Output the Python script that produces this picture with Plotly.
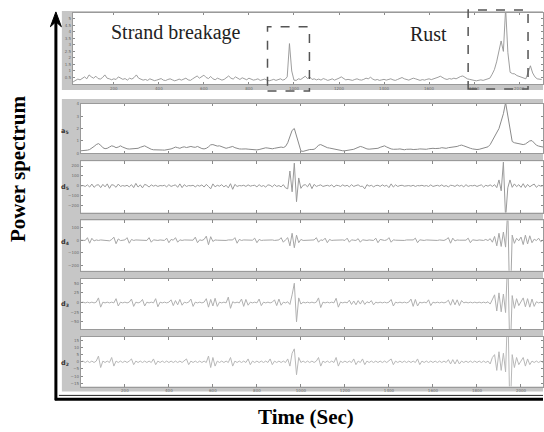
import plotly.graph_objects as go

W, H = 544, 432


def px(x):
    return x / W


def py(y):
    return 1 - y / H


# ---------------- data ----------------
time = list(range(0, 2101, 10))  # seconds, 10 s sampling

spectrum = [
    0.15, 0.20, 0.18, 0.30, 0.38, 0.32, 0.45, 0.55, 0.40, 0.70,
    0.55, 0.45, 0.60, 0.42, 0.38, 0.50, 0.70, 0.45, 0.40, 0.33,
    0.40, 0.35, 0.55, 0.48, 0.36, 0.42, 0.30, 0.45, 0.38, 0.50,
    0.70, 0.45, 0.38, 0.30, 0.35, 0.28, 0.40, 0.33, 0.26, 0.30,
    0.36, 0.42, 0.30, 0.27, 0.35, 0.40, 0.32, 0.25, 0.30, 0.38,
    0.30, 0.35, 0.45, 0.32, 0.28, 0.40, 0.50, 0.62, 0.45, 0.55,
    0.68, 0.50, 0.42, 0.58, 0.40, 0.33, 0.45, 0.38, 0.30, 0.36,
    0.50, 0.62, 0.45, 0.38, 0.55, 0.42, 0.35, 0.48, 0.40, 0.33,
    0.45, 0.36, 0.30, 0.34, 0.40, 0.28, 0.32, 0.38, 0.30, 0.25,
    0.30, 0.36, 0.28, 0.34, 0.40, 0.30, 0.36, 0.55, 3.10, 1.00,
    0.30, 0.28, 0.40, 0.35, 0.48, 0.60, 0.42, 0.55, 0.35, 0.40,
    0.32, 0.38, 0.30, 0.42, 0.36, 0.28, 0.33, 0.40, 0.30, 0.35,
    0.45, 0.55, 0.40, 0.32, 0.36, 0.30, 0.28, 0.35, 0.40, 0.33,
    0.30, 0.36, 0.45, 0.40, 0.52, 0.38, 0.30, 0.35, 0.28, 0.32,
    0.36, 0.30, 0.34, 0.40, 0.32, 0.28, 0.35, 0.42, 0.50, 0.40,
    0.34, 0.30, 0.38, 0.45, 0.40, 0.33, 0.28, 0.34, 0.30, 0.36,
    0.40, 0.34, 0.38, 0.45, 0.52, 0.60, 0.48, 0.40, 0.35, 0.42,
    0.38, 0.45, 0.40, 0.50, 0.58, 0.62, 0.48, 0.40, 0.36, 0.30,
    0.28, 0.25, 0.30, 0.32, 0.28, 0.35, 0.40, 0.45, 0.75, 1.10,
    1.70, 2.40, 3.30, 2.50, 5.80, 2.40, 0.90, 0.80, 0.78, 0.65,
    0.60, 0.55, 0.45, 0.40, 0.90, 1.40, 0.85, 0.55, 0.40, 0.38,
    0.35,
]

a5 = [
    0.20, 0.20, 0.22, 0.25, 0.30, 0.40, 0.55, 0.70, 0.78, 0.65,
    0.45, 0.37, 0.40, 0.50, 0.60, 0.55, 0.45, 0.50, 0.60, 0.50,
    0.40, 0.36, 0.34, 0.35, 0.33, 0.35, 0.40, 0.48, 0.55, 0.60,
    0.50, 0.40, 0.32, 0.28, 0.26, 0.25, 0.24, 0.26, 0.25, 0.27,
    0.30, 0.35, 0.42, 0.50, 0.45, 0.40, 0.48, 0.52, 0.46, 0.50,
    0.55, 0.50, 0.48, 0.55, 0.45, 0.38, 0.35, 0.40, 0.52, 0.68,
    0.70, 0.62, 0.58, 0.60, 0.52, 0.44, 0.40, 0.45, 0.52, 0.55,
    0.45, 0.38, 0.35, 0.34, 0.36, 0.35, 0.33, 0.30, 0.27, 0.25,
    0.27, 0.30, 0.35, 0.40, 0.44, 0.42, 0.38, 0.36, 0.40, 0.45,
    0.48, 0.50, 0.46, 0.55, 0.85, 1.35, 1.85, 2.00, 1.40, 0.70,
    0.18, 0.15, 0.22, 0.28, 0.30, 0.30, 0.32, 0.45, 0.65, 0.70,
    0.60, 0.50, 0.45, 0.42, 0.38, 0.33, 0.30, 0.28, 0.24, 0.20,
    0.20, 0.22, 0.28, 0.30, 0.32, 0.40, 0.50, 0.55, 0.50, 0.40,
    0.35, 0.33, 0.35, 0.34, 0.36, 0.40, 0.48, 0.55, 0.60, 0.50,
    0.40, 0.35, 0.32, 0.30, 0.33, 0.35, 0.30, 0.28, 0.32, 0.35,
    0.33, 0.30, 0.28, 0.32, 0.35, 0.33, 0.30, 0.32, 0.36, 0.40,
    0.40, 0.38, 0.36, 0.40, 0.45, 0.42, 0.40, 0.45, 0.48, 0.46,
    0.50, 0.55, 0.62, 0.66, 0.60, 0.52, 0.48, 0.40, 0.35, 0.30,
    0.30, 0.32, 0.36, 0.40, 0.44, 0.52, 0.70, 1.00, 1.30, 1.60,
    2.00, 2.60, 3.20, 4.10, 3.00, 1.80, 0.95, 0.85, 0.80, 0.75,
    0.72, 0.70, 0.75, 0.88, 1.00, 1.02, 0.85, 0.65, 0.58, 0.52,
    0.50,
]

d5 = [
    0, 3, -6, 10, -12, 18, -15, 6, 12, -18,
    15, -10, 20, -25, 12, 6, -15, 18, -6, 3,
    -3, 6, -10, 12, -18, 25, -12, 10, -20, 15,
    6, -12, 10, -3, 6, -6, 3, 0, 6, -10,
    12, -6, 3, 10, -15, 20, -18, 12, -6, 3,
    0, 6, -10, 6, -3, 10, -12, 15, -6, -30,
    20, -10, 6, -3, 12, -10, 6, -20, 22, -35,
    15, -6, 3, 0, 6, -6, 10, -3, 3, 6,
    -10, 12, -6, 3, -12, 10, 6, -10, 12, -6,
    3, -10, 12, -20, -30, 150, -60, 230, -160, 80,
    -25, 6, 12, -10, 25, -28, 15, -6, 3, 10,
    -6, 3, 6, -3, 10, -12, 6, 3, -6, 10,
    -3, 6, -10, 12, -6, 3, 10, -6, -3, -30,
    12, -3, 6, -10, 3, 6, -6, 10, -3, 6,
    -18, 20, -12, 10, -6, 3, 6, -3, 0, 3,
    -3, 6, -6, 3, 0, 6, -3, 3, -6, 10,
    -6, 3, 6, -3, 10, -6, 3, -10, 6, 3,
    -6, 10, -3, 6, -10, 12, -6, 3, 0, 6,
    -6, 3, 10, -12, 6, -3, 10, -6, 12, -18,
    60, -50, 240, -330, -20, 60, -15, 20, -8, 12,
    -15, 22, -18, 15, -10, 6, 18, -15, 6, -3,
    3,
]

d4 = [
    0, 2, -2, 20, -24, 15, -6, 2, -2, 2,
    0, -2, 2, -5, 5, 24, -28, 10, -3, 2,
    2, 20, -24, 6, -2, 2, 0, -2, 2, 0,
    -2, 20, -16, 3, 0, -2, 2, 0, -2, 16,
    -20, 6, 0, 20, -16, 3, -2, 2, 0, -2,
    2, 0, 24, -20, 3, -2, 6, 32, -36, 28,
    -10, 2, 0, -2, 2, 0, -2, 2, 0, 2,
    20, -24, 6, -2, 2, 0, -2, 2, 0, 16,
    -20, 6, -2, 0, 2, -2, 0, 2, -2, 0,
    2, 20, -16, 3, 20, -45, 55, -60, 40, -20,
    6, -2, 0, 2, -2, 0, 2, 20, -16, 3,
    -2, 16, -20, 6, -2, 0, 2, -2, 0, 2,
    -2, 16, -16, 3, 0, -2, 12, -16, 3, 0,
    -2, 2, 0, -2, 16, -20, 6, 0, -2, 2,
    20, -16, 3, 0, -2, 2, 0, -2, 2, 0,
    -2, 2, 16, -20, 3, 0, -2, 2, 0, -2,
    2, 0, -2, 2, 0, -2, 6, 20, -24, 16,
    -6, 2, 0, -2, 2, 0, 16, -20, 3, 0,
    -2, 2, 0, -2, 6, -3, 12, -16, 30, -45,
    55, -50, 65, -55, 250, -600, 40, -25, 15, -5,
    25, -35, 40, -30, 35, -20, 8, -3, 16, -12,
    2,
]

d3 = [
    0, 1, -1, 1, -1, 1, -1, 1, 12, -12,
    1, -1, 1, -1, 1, -1, 10, -9, 1, -1,
    1, -1, 1, 9, -10, 1, -1, 1, 8, -9,
    1, -1, 1, -1, 10, -11, 1, -1, 1, -1,
    1, 7, -8, 5, -6, 8, -7, 1, -1, 1,
    9, -10, 1, -1, 1, -1, 1, 10, -12, 8,
    -9, 11, -10, 1, -1, 1, -1, 14, -15, 2,
    -1, 1, -1, 9, -10, 8, -7, 1, -1, 1,
    -1, 9, -8, 1, -1, 1, -1, 1, 7, -8,
    9, -7, 1, -1, 2, -5, 20, 50, -50, 12,
    -4, 1, -1, 1, -1, 1, -1, 1, 12, -13,
    1, -1, 1, -1, 1, -1, 11, -12, 1, -1,
    1, -1, 6, -5, 4, -6, 5, -4, 6, -5,
    2, -1, 5, -6, 1, -1, 1, -1, 1, -1,
    1, 8, -9, 1, -1, 1, -1, 1, -1, 1,
    9, -10, 8, -9, 1, -1, 1, -1, 7, -8,
    1, -1, 1, -1, 1, -1, 1, 6, -7, 8,
    -6, 7, -8, 5, -1, 1, -1, 1, -1, 1,
    -1, 1, -1, 1, -1, 2, -4, 8, 20, -22,
    25, -24, 22, -26, 120, -150, 18, -15, 10, -8,
    2, 12, -11, 10, -12, 9, -10, 2, -1, 1,
    -1,
]

d2 = [
    0, 0.5, -0.5, 0.5, -0.5, 0.5, -0.5, 0.5, 4, -4,
    0.5, -0.5, 0.5, -0.5, 3, -3, 0.5, -0.5, 0.5, -0.5,
    0.5, -0.5, 0.5, 2, -2, 0.5, -0.5, 0.5, -0.5, 0.5,
    -0.5, 0.5, -0.5, 2, -2, 0.5, -0.5, 0.5, -0.5, 0.5,
    -0.5, 0.5, -0.5, 0.5, -0.5, 0.5, -0.5, 0.5, 2, -2,
    0.5, -0.5, 0.5, -0.5, 0.5, -0.5, 0.5, -0.5, 4, -4,
    3, -3, 0.5, -0.5, 0.5, -0.5, 0.5, -0.5, 3, -3,
    0.5, -0.5, 0.5, -0.5, 0.5, -0.5, 2, -2, 0.5, -0.5,
    0.5, -0.5, 0.5, -0.5, 0.5, -0.5, 2, -2, 0.5, -0.5,
    0.5, -0.5, 0.5, -0.5, 2, -3, 6, 9, -9, 3,
    -0.5, 0.5, -0.5, 0.5, -0.5, 0.5, -0.5, 0.5, 3, -3,
    0.5, -0.5, 0.5, -0.5, 0.5, -0.5, 3, -3, 0.5, -0.5,
    0.5, -0.5, 0.5, -0.5, 2, -2, 0.5, -0.5, 2, -2,
    0.5, -0.5, 0.5, -0.5, 0.5, -0.5, 0.5, -0.5, 0.5, -0.5,
    0.5, 2, -2, 0.5, -0.5, 0.5, -0.5, 0.5, -0.5, 0.5,
    -0.5, 0.5, -0.5, 2, -2, 0.5, -0.5, 0.5, -0.5, 0.5,
    -0.5, 0.5, -0.5, 0.5, -0.5, 0.5, -0.5, 1.5, -1.5, 1.5,
    -1.5, 1.5, -1.5, 0.5, -0.5, 0.5, -0.5, 0.5, -0.5, 0.5,
    -0.5, 0.5, -0.5, 0.5, -0.5, 0.5, -1.5, 3, 5, -6,
    7, -6, 6, -7, 40, -40, 5, -4, 3, -2,
    0.5, 3, -3, 2, -2, 0.5, -0.5, 0.5, -0.5, 0.5,
    -0.5,
]

for name, s in [("spectrum", spectrum), ("a5", a5), ("d5", d5),
                ("d4", d4), ("d3", d3), ("d2", d2)]:
    assert len(s) == len(time), (name, len(s))

x_ticks = [200, 400, 600, 800, 1000, 1200, 1400, 1600, 1800, 2000]
spec_yticks = [0.5, 1, 1.5, 2, 2.5, 3, 3.5, 4, 4.5, 5]
a5_yticks = [0, 1, 2, 3, 4]
d5_yticks = [-200, -100, 0, 100, 200]
d4_yticks = [-200, -100, 0, 100]
d3_yticks = [-50, -25, 0, 25, 50]
d2_yticks = [-15, -10, -5, 0, 5, 10, 15]
panel_names = ["a<sub>5</sub>", "d<sub>5</sub>", "d<sub>4</sub>",
               "d<sub>3</sub>", "d<sub>2</sub>"]

# ---------------- figure ----------------
fig = go.Figure()

series = [
    (spectrum, "x", "y", "#939393", 0.9),
    (a5, "x2", "y2", "#8a8a8a", 1.0),
    (d5, "x3", "y3", "#9a9a9a", 1.0),
    (d4, "x4", "y4", "#a6a6a6", 1.0),
    (d3, "x5", "y5", "#b0b0b0", 1.0),
    (d2, "x6", "y6", "#b8b8b8", 1.0),
]
for vals, xa, ya, col, lw in series:
    fig.add_trace(go.Scatter(x=time, y=vals, mode="lines", xaxis=xa, yaxis=ya,
                             line=dict(color=col, width=lw),
                             showlegend=False, hoverinfo="skip"))

tickfont = dict(size=4, color="#6a6a6a", family="DejaVu Sans")
base_axis = dict(showgrid=False, zeroline=False, showline=True,
                 linecolor="#9a9a9a", linewidth=1, mirror="ticks",
                 ticks="inside", ticklen=2.5, tickwidth=1,
                 tickcolor="#8a8a8a", tickfont=tickfont)

layout = dict(
    width=W, height=H, margin=dict(l=0, r=0, t=0, b=0),
    paper_bgcolor="white", plot_bgcolor="white",
    xaxis=dict(base_axis, domain=[px(73), 1], range=[18, 2106], anchor="y",
               tickvals=x_ticks),
    yaxis=dict(base_axis, domain=[py(82), py(10)], range=[0, 5.45],
               anchor="x", tickvals=spec_yticks),
)

panels = [  # (top px, bottom px, range, ticks, label y px)
    (102, 152, [0, 4], a5_yticks, 130),
    (160, 212, [-270, 250], d5_yticks, 186),
    (220, 271, [-244, 157], d4_yticks, 242),
    (279, 330, [-69, 61.5], d3_yticks, 305),
    (338, 388, [-17.2, 17.2], d2_yticks, 364),
]
for i, (top, bot, rng, yt, _) in enumerate(panels):
    k = i + 2
    layout[f"xaxis{k}"] = dict(base_axis, domain=[px(81), 1], range=[0, 2100],
                               anchor=f"y{k}", tickvals=x_ticks,
                               showticklabels=(k == 6))
    layout[f"yaxis{k}"] = dict(base_axis, domain=[py(bot), py(top)], range=rng,
                               anchor=f"x{k}", tickvals=yt)
fig.update_layout(**layout)

# ---------------- decorations ----------------
GRAY = "#c6c6c6"


def rect(x0, y0, x1, y1, fill, layer="below"):
    return dict(type="rect", xref="paper", yref="paper",
                x0=px(x0), x1=px(x1), y0=py(y1), y1=py(y0),
                fillcolor=fill, line=dict(width=0), layer=layer)


shapes = [
    rect(62, 8, 544, 88, GRAY),
    rect(73, 10, 544, 82, "white"),
    rect(62, 97, 544, 393, GRAY),
]
for top, bot, _, _, _ in panels:
    shapes.append(rect(81, top, 544, bot, "white"))

for x0, y0, x1, y1 in [(268, 24, 310, 89), (469, 7, 529, 87)]:
    shapes.append(dict(type="rect", xref="paper", yref="paper",
                       x0=px(x0), x1=px(x1), y0=py(y1), y1=py(y0),
                       line=dict(color="#555555", width=1.5, dash="dash"),
                       fillcolor="rgba(0,0,0,0)", layer="above"))

shapes += [
    dict(type="line", xref="paper", yref="paper", x0=px(56), x1=px(56),
         y0=py(402), y1=py(17), line=dict(color="black", width=3)),
    dict(type="line", xref="paper", yref="paper", x0=px(55), x1=px(544),
         y0=py(401), y1=py(401), line=dict(color="black", width=3)),
    dict(type="line", xref="paper", yref="paper", x0=px(59), x1=px(544),
         y0=py(397), y1=py(397), line=dict(color="#222222", width=1)),
    dict(type="path", xref="paper", yref="paper",
         path=(f"M {px(50.5)},{py(24)} L {px(56)},{py(9)} L {px(61.5)},{py(24)} "
               f"L {px(56)},{py(19)} Z"),
         fillcolor="black", line=dict(color="black", width=1)),
]
fig.update_layout(shapes=shapes)

serif = "Liberation Serif"
annotations = [
    dict(text="Strand breakage", x=px(176.5), y=py(29.5),
         font=dict(family=serif, size=20, color="#222222")),
    dict(text="Rust", x=px(429.5), y=py(31),
         font=dict(family=serif, size=20, color="#222222")),
    dict(text="<b>Power spectrum</b>", x=px(18), y=py(168), textangle=-90,
         font=dict(family=serif, size=21, color="black")),
    dict(text="<b>Time (Sec)</b>", x=px(307), y=py(419),
         font=dict(family=serif, size=21, color="black")),
]
for name, (_, _, _, _, ly) in zip(panel_names, panels):
    annotations.append(dict(text=f"<b>{name}</b>", x=px(65.5), y=py(ly),
                            font=dict(family="DejaVu Sans", size=6.5,
                                      color="#333333")))
for a in annotations:
    a.update(xref="paper", yref="paper", showarrow=False,
             xanchor="center", yanchor="middle")
fig.update_layout(annotations=annotations)

fig.write_html("out.html")
